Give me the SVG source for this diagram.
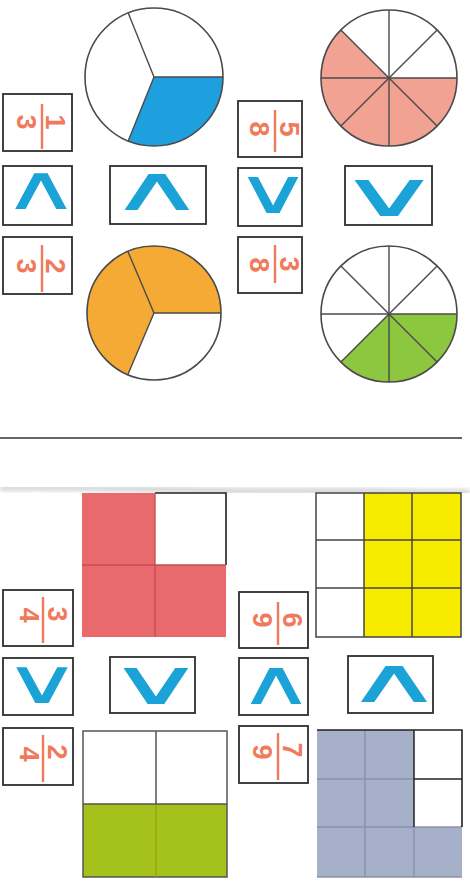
<svg xmlns="http://www.w3.org/2000/svg" width="470" height="887" viewBox="0 0 470 887">
<defs>
<style>
.box{fill:#fff;stroke:#2e2e2e;stroke-width:1.8}
.circ{fill:none;stroke:#4a4a4a;stroke-width:1.6}
.spoke{stroke:#4a4a4a;stroke-width:1.4}
.dig{font-family:"Liberation Sans",Arial,sans-serif;font-weight:bold;font-size:27px;fill:#f07a5c;text-anchor:middle;dominant-baseline:central}
.bar{stroke:#f07a5c;stroke-width:2.4}
.sym{font-family:"DejaVu Sans",sans-serif;font-size:62px;fill:#1ba3d8;text-anchor:middle;dominant-baseline:central}
.grid{stroke:#444;stroke-width:1.5;fill:none}
</style>
<filter id="blur"><feGaussianBlur stdDeviation="2"/></filter>
</defs>
<rect width="470" height="887" fill="#fff"/>

<!-- circles -->
<g id="circle-1-3">
<path d="M154,77 L223,77 A69,69 0 0 1 128.2,141 Z" fill="#1fa0de"/>
<circle class="circ" cx="154" cy="77" r="69"/>
<line class="spoke" x1="154" y1="77" x2="223" y2="77"/>
<line class="spoke" x1="154" y1="77" x2="128.2" y2="141"/>
<line class="spoke" x1="154" y1="77" x2="128.2" y2="13"/>
</g>
<g id="circle-5-8">
<path d="M389,78 L457,78 A68,68 0 1 1 340.9,29.9 Z" fill="#f2a292"/>
<circle class="circ" cx="389" cy="78" r="68"/>
<line class="spoke" x1="321" y1="78" x2="457" y2="78"/>
<line class="spoke" x1="389" y1="10" x2="389" y2="146"/>
<line class="spoke" x1="340.9" y1="29.9" x2="437.1" y2="126.1"/>
<line class="spoke" x1="437.1" y1="29.9" x2="340.9" y2="126.1"/>
</g>
<g id="circle-2-3">
<path d="M154,313 L127.8,374.7 A67,67 0 1 1 221,313 Z" fill="#f5aa36"/>
<circle class="circ" cx="154" cy="313" r="67"/>
<line class="spoke" x1="154" y1="313" x2="221" y2="313"/>
<line class="spoke" x1="154" y1="313" x2="127.8" y2="374.7"/>
<line class="spoke" x1="154" y1="313" x2="127.8" y2="251.3"/>
</g>
<g id="circle-3-8">
<path d="M389,314 L457,314 A68,68 0 0 1 340.9,362.1 Z" fill="#8dc63f"/>
<circle class="circ" cx="389" cy="314" r="68"/>
<line class="spoke" x1="321" y1="314" x2="457" y2="314"/>
<line class="spoke" x1="389" y1="246" x2="389" y2="382"/>
<line class="spoke" x1="340.9" y1="265.9" x2="437.1" y2="362.1"/>
<line class="spoke" x1="437.1" y1="265.9" x2="340.9" y2="362.1"/>
</g>

<!-- fraction boxes -->
<g id="frac-1-3">
<rect class="box" x="3" y="94" width="69" height="57"/>
<line class="bar" x1="42" y1="104" x2="42" y2="149"/>
<text class="dig" transform="translate(55,122) rotate(90)">1</text>
<text class="dig" transform="translate(26,122) rotate(90)">3</text>
</g>
<g id="frac-2-3">
<rect class="box" x="3" y="237" width="69" height="57"/>
<line class="bar" x1="42" y1="245" x2="42" y2="292"/>
<text class="dig" transform="translate(55,266) rotate(90)">2</text>
<text class="dig" transform="translate(26,266) rotate(90)">3</text>
</g>
<g id="frac-5-8">
<rect class="box" x="238" y="101" width="64" height="56"/>
<line class="bar" x1="275" y1="110" x2="275" y2="152"/>
<text class="dig" transform="translate(289,129) rotate(90)">5</text>
<text class="dig" transform="translate(259,129) rotate(90)">8</text>
</g>
<g id="frac-3-8">
<rect class="box" x="238" y="237" width="64" height="56"/>
<line class="bar" x1="275" y1="245" x2="275" y2="283"/>
<text class="dig" transform="translate(289,264) rotate(90)">3</text>
<text class="dig" transform="translate(259,265) rotate(90)">8</text>
</g>
<g id="frac-3-4">
<rect class="box" x="3" y="590" width="70" height="56"/>
<line class="bar" x1="43" y1="597" x2="43" y2="643"/>
<text class="dig" transform="translate(57,614) rotate(90)">3</text>
<text class="dig" transform="translate(29,615) rotate(90)">4</text>
</g>
<g id="frac-2-4">
<rect class="box" x="3" y="728" width="70" height="57"/>
<line class="bar" x1="43" y1="735" x2="43" y2="782"/>
<text class="dig" transform="translate(57,752) rotate(90)">2</text>
<text class="dig" transform="translate(29,754) rotate(90)">4</text>
</g>
<g id="frac-6-9">
<rect class="box" x="239" y="592" width="69" height="56"/>
<line class="bar" x1="278" y1="602" x2="278" y2="645"/>
<text class="dig" transform="translate(292,620) rotate(90)">6</text>
<text class="dig" transform="translate(262,620) rotate(90)">9</text>
</g>
<g id="frac-7-9">
<rect class="box" x="239" y="726" width="69" height="57"/>
<line class="bar" x1="278" y1="733" x2="278" y2="780"/>
<text class="dig" transform="translate(292,750) rotate(90)">7</text>
<text class="dig" transform="translate(262,752) rotate(90)">9</text>
</g>

<!-- comparison boxes -->
<g id="cmp-1">
<rect class="box" x="3" y="166" width="69" height="59"/>
<text class="sym" transform="translate(41,188) scale(1.75,1)">∧</text>
</g>
<g id="cmp-2">
<rect class="box" x="110" y="166" width="96" height="58"/>
<text class="sym" transform="translate(157,189) scale(2.2,1)">∧</text>
</g>
<g id="cmp-3">
<rect class="box" x="238" y="168" width="64" height="58"/>
<text class="sym" transform="translate(273,192) scale(1.72,1)">∨</text>
</g>
<g id="cmp-4">
<rect class="box" x="345" y="166" width="87" height="59"/>
<text class="sym" transform="translate(389,194) scale(2.35,1)">∨</text>
</g>
<g id="cmp-5">
<rect class="box" x="3" y="658" width="70" height="57"/>
<text class="sym" transform="translate(42,682) scale(1.75,1)">∨</text>
</g>
<g id="cmp-6">
<rect class="box" x="110" y="657" width="85" height="56"/>
<text class="sym" transform="translate(156,683) scale(2.2,1)">∨</text>
</g>
<g id="cmp-7">
<rect class="box" x="239" y="658" width="69" height="57"/>
<text class="sym" transform="translate(276,683) scale(1.72,1)">∧</text>
</g>
<g id="cmp-8">
<rect class="box" x="348" y="656" width="85" height="57"/>
<text class="sym" transform="translate(394,680) scale(2.25,1)">∧</text>
</g>

<!-- divider -->
<line x1="0" y1="438" x2="462" y2="438" stroke="#333" stroke-width="1.5"/>
<path d="M0,488 C100,486 200,492 300,491 S420,493 470,492" stroke="#bbb" stroke-width="6" fill="none" opacity="0.6" filter="url(#blur)"/>

<!-- squares -->
<g id="square-3-4">
<rect x="82" y="493" width="73" height="144" fill="#e96a6d"/>
<rect x="155" y="565" width="71" height="72" fill="#e96a6d"/>
<polyline points="155,493 226,493 226,565" fill="none" stroke="#222" stroke-width="1.6"/>
<line x1="155" y1="493" x2="155" y2="637" stroke="#c24c52" stroke-width="1.3"/>
<line x1="82" y1="565" x2="226" y2="565" stroke="#c24c52" stroke-width="1.3"/>
</g>
<g id="grid-6-9">
<rect x="364" y="493" width="97" height="144" fill="#f7eb00"/>
<rect class="grid" x="316" y="493" width="145" height="144"/>
<line class="grid" x1="364" y1="493" x2="364" y2="637"/>
<line class="grid" x1="412" y1="493" x2="412" y2="637"/>
<line class="grid" x1="316" y1="540" x2="461" y2="540"/>
<line class="grid" x1="316" y1="588" x2="461" y2="588"/>
</g>
<g id="square-2-4">
<rect x="83" y="804" width="144" height="73" fill="#a5c21c"/>
<rect x="83" y="731" width="144" height="146" fill="none" stroke="#555" stroke-width="1.5"/>
<line x1="156" y1="731" x2="156" y2="804" stroke="#555" stroke-width="1.5"/>
<line x1="156" y1="804" x2="156" y2="877" stroke="#8ea214" stroke-width="1.2"/>
<line x1="83" y1="804" x2="227" y2="804" stroke="#555" stroke-width="1.3"/>
</g>
<g id="grid-7-9">
<path d="M317,730 H414 V827 H462 V877 H317 Z" fill="#a7b0c9"/>
<line x1="365" y1="730" x2="365" y2="877" stroke="#8b93ab" stroke-width="1.5"/>
<line x1="414" y1="827" x2="414" y2="877" stroke="#8b93ab" stroke-width="1.5"/>
<line x1="317" y1="779" x2="414" y2="779" stroke="#8b93ab" stroke-width="1.5"/>
<line x1="317" y1="827" x2="462" y2="827" stroke="#8b93ab" stroke-width="1.5"/>
<polyline points="317,730 462,730 462,827" fill="none" stroke="#222" stroke-width="1.6"/>
<polyline points="414,730 414,827" fill="none" stroke="#222" stroke-width="1.5"/>
<line x1="414" y1="779" x2="462" y2="779" stroke="#222" stroke-width="1.5"/>
<line x1="317" y1="877" x2="462" y2="877" stroke="#8b93ab" stroke-width="1.5"/>
</g>
</svg>
